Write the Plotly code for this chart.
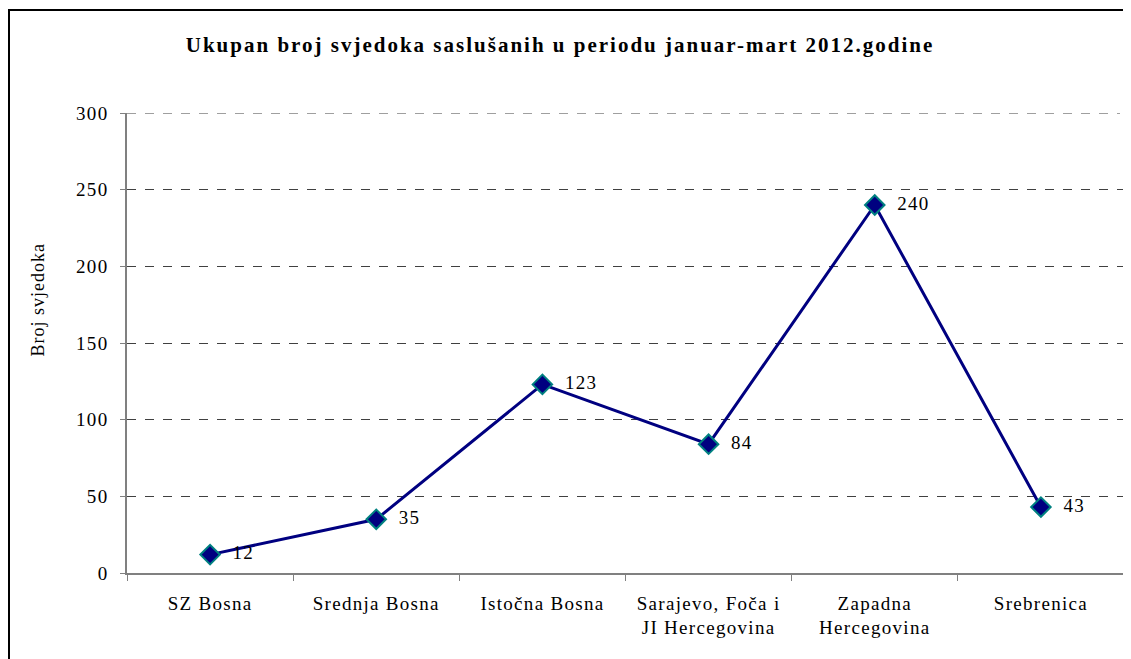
import plotly.graph_objects as go

categories = ["SZ Bosna", "Srednja Bosna", "Istočna Bosna",
              "Sarajevo, Foča i<br>JI Hercegovina", "Zapadna<br>Hercegovina", "Srebrenica"]
values = [12, 35, 123, 84, 240, 43]
title_text = "Ukupan broj svjedoka saslušanih u periodu januar-mart 2012.godine"
y_title = "Broj svjedoka"
y_ticks = [0, 50, 100, 150, 200, 250, 300]

font_family = "Liberation Serif, Times New Roman, serif"

# page has an 8px body margin; figure is sized to fill the rest
W, H = 1123, 651
ML, MR, MT, MB = 119, 7, 105, 86
PW, PH = W - ML - MR, H - MT - MB

fig = go.Figure()
fig.add_trace(go.Scatter(
    x=categories, y=values, mode="lines+markers+text",
    text=["\u00a0\u00a0" + str(v) for v in values], textposition="middle right",
    textfont=dict(family=font_family, size=19, color="#000000"),
    line=dict(color="#000080", width=3),
    marker=dict(symbol="diamond", size=15, color="#000080",
                line=dict(color="#008080", width=2)),
    cliponaxis=False, showlegend=False,
))

fig.update_layout(
    width=W, height=H,
    margin=dict(l=ML, r=MR, t=MT, b=MB),
    paper_bgcolor="white", plot_bgcolor="white",
    font=dict(family=font_family, size=19, color="#000000"),
    title=dict(text="<b>" + title_text + "</b>", x=552 / W, xanchor="center",
               y=1 - 37 / H, yanchor="middle",
               font=dict(family=font_family, size=21, color="#000000")),
    shapes=[
        dict(type="rect", xref="paper", yref="paper",
             x0=(1 - ML) / PW, x1=1.2, y0=-0.4, y1=(H - MB - 2) / PH,
             line=dict(color="#000000", width=2), fillcolor="rgba(0,0,0,0)",
             layer="below"),
        dict(type="line", xref="paper", yref="y", x0=0, x1=0.996,
             y0=y_ticks[-1], y1=y_ticks[-1],
             line=dict(color="#404040", width=1, dash="dash"), layer="below"),
    ],
    annotations=[dict(text=y_title, textangle=-90, xref="paper", yref="paper",
                      x=(30 - ML) / PW, y=(H - MB - 292) / PH,
                      xanchor="center", yanchor="middle", showarrow=False,
                      font=dict(family=font_family, size=18, color="#000000"))],
)

fig.update_xaxes(
    type="category", range=[-0.5, 5.5],
    showline=True, linecolor="#808080", linewidth=1.5,
    ticks="outside", tickson="boundaries", ticklen=6, tickcolor="#808080",
    showgrid=False, ticklabelstandoff=12,
    tickfont=dict(family=font_family, size=19),
)
fig.update_yaxes(
    range=[0, 300], tickvals=y_ticks,
    showline=True, linecolor="#808080", linewidth=1.5,
    ticks="outside", ticklen=5, tickcolor="#808080",
    showgrid=True, gridcolor="#404040", griddash="dash", gridwidth=1,
    zeroline=False, ticklabelstandoff=8,
    tickfont=dict(family=font_family, size=19),
)

post = """
var st = document.createElement('style');
st.innerHTML = '.xtick text, .ytick text, .textpoint text {letter-spacing: 1.3px;} ' +
               '.annotation-text {letter-spacing: 1px;} .gtitle {letter-spacing: 2px;}';
document.head.appendChild(st);
"""
fig.write_html("out.html", post_script=post)
